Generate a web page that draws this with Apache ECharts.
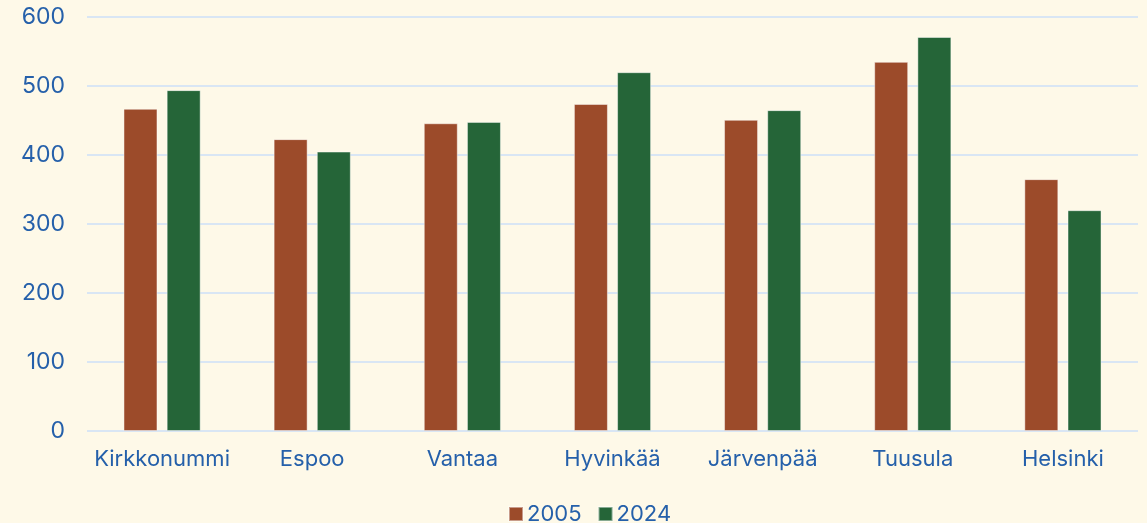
<!DOCTYPE html>
<html><head><meta charset="utf-8">
<script src="https://cdn.jsdelivr.net/npm/echarts@6/dist/echarts.min.js"></script>
<style>html,body{margin:0;padding:0;background:#fef9e8;}#c{width:1147px;height:523px;}</style>
</head><body><div id="c"></div>
<script>
const categories = ["Kirkkonummi","Espoo","Vantaa","Hyvinkää","Järvenpää","Tuusula","Helsinki"];
const values2005 = [467, 423, 446, 474, 451, 535, 365];
const values2024 = [494, 405, 448, 520, 465, 571, 320];
const seriesNames = ["2005","2024"];
const txt = '#2560aa';
const chart = echarts.init(document.getElementById('c'));
const barStyle = (c) => ({color: c, borderColor: 'rgba(255,255,255,0.45)', borderWidth: 1});
chart.setOption({
  backgroundColor: '#fef9e8',
  textStyle: {fontFamily: 'Inter'},
  grid: {left: 87, right: 9, top: 17, bottom: 92},
  legend: {
    left: 503, top: 498, itemWidth: 14, itemHeight: 14, itemGap: 16,
    icon: 'rect',
    textStyle: {color: txt, fontSize: 22, fontFamily: 'Inter', padding: [0,0,0,-1]},
    data: seriesNames
  },
  xAxis: {
    type: 'category', data: categories,
    axisLine: {show: false}, axisTick: {show: false},
    axisLabel: {color: txt, fontSize: 22, margin: 17, interval: 0, fontFamily: 'Inter'}
  },
  yAxis: {
    type: 'value', min: 0, max: 600, interval: 100,
    axisLabel: {color: txt, fontSize: 23, margin: 22, fontFamily: 'Inter'},
    splitLine: {lineStyle: {color: '#d9e6f4', width: 2}}
  },
  series: [
    {name: seriesNames[0], type: 'bar', data: values2005, barWidth: 34, barGap: '27%', itemStyle: barStyle('#9c4b2a')},
    {name: seriesNames[1], type: 'bar', data: values2024, barWidth: 34, itemStyle: barStyle('#256538')}
  ]
});
</script></body></html>
